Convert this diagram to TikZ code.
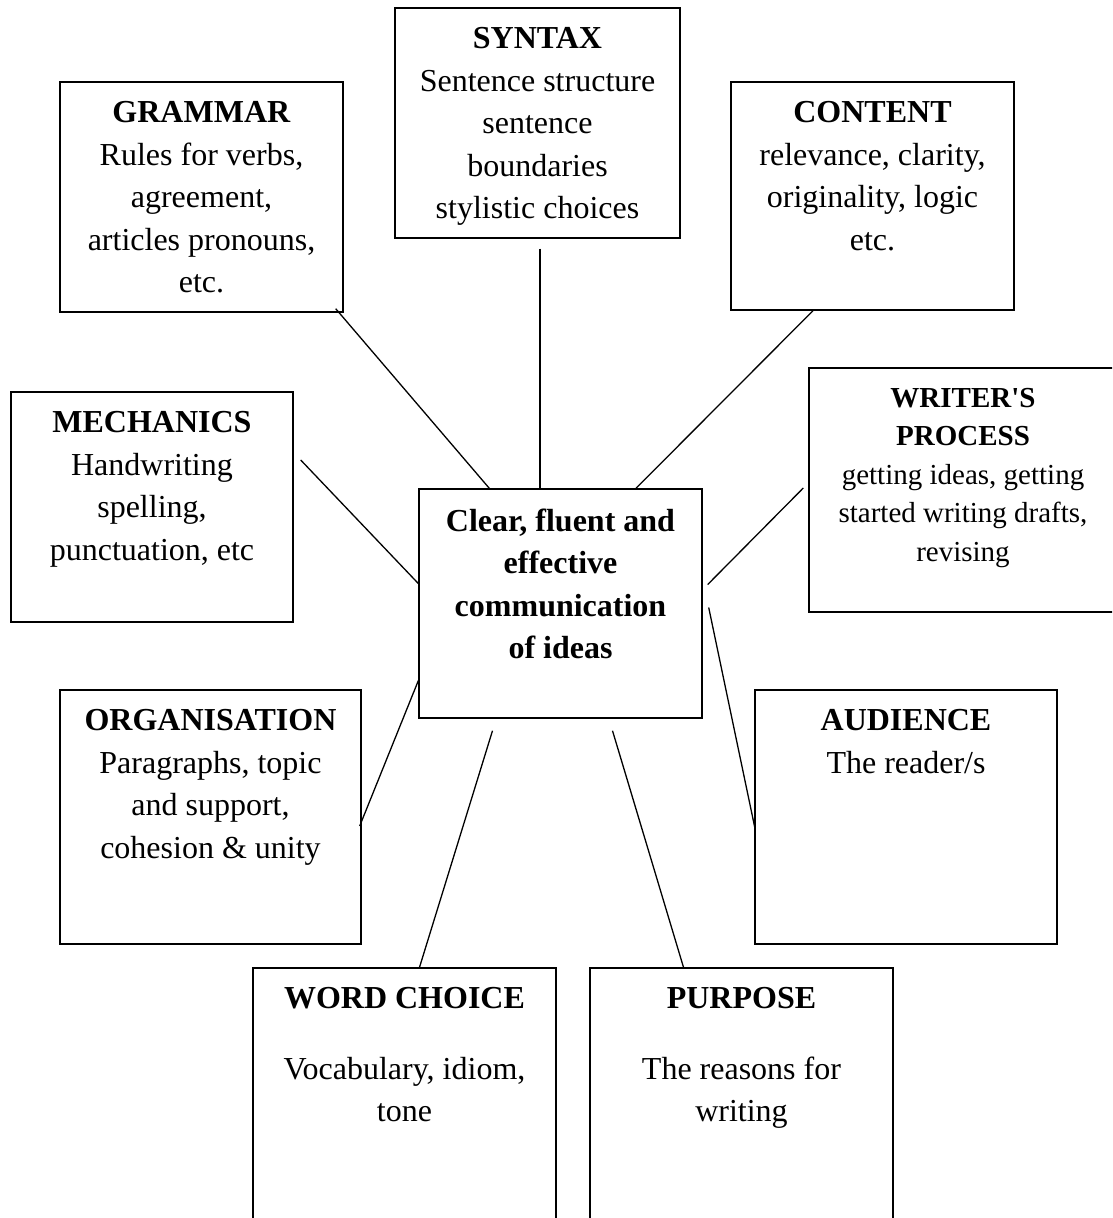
\documentclass[tikz,border=0pt]{standalone}
\usepackage{fontspec}
\setmainfont{Liberation Serif}
\usetikzlibrary{positioning,calc}

\begin{document}
\begin{tikzpicture}[x=1pt,y=-1pt,
    box/.style={draw,line width=1.4pt,inner sep=0pt},
    txt/.style={align=center,inner sep=0pt,font=\fontsize{32}{42.5}\selectfont},
    lnk/.style={line width=1.3pt}]
  \useasboundingbox (0,0) rectangle (1112,1218);
  \clip (0,0) rectangle (1112,1218);
  % outer boxes
  \node[box,minimum width=283,minimum height=230] (gram) at (201.5,197) {};
  \node[box,minimum width=285,minimum height=230] (syn) at (537.5,123) {};
  \node[box,minimum width=283,minimum height=228] (cont) at (872.5,196) {};
  \node[box,minimum width=282,minimum height=230] (mech) at (152,507) {};
  \node[box,minimum width=308,minimum height=244] (wp) at (963,490) {};
  \node[box,minimum width=283,minimum height=229] (ctr) at (560.5,603.5) {};
  \node[box,minimum width=301,minimum height=254] (org) at (210.5,817) {};
  \node[box,minimum width=302,minimum height=254] (aud) at (906,817) {};
  \node[box,minimum width=303,minimum height=272] (wc) at (404.5,1104) {};
  \node[box,minimum width=303,minimum height=272] (pur) at (741.5,1104) {};
  % texts
  \node[txt,below=20pt of gram.north] (gramT)
    {\textbf{GRAMMAR}\\Rules for verbs,\\agreement,\\articles pronouns,\\etc.};
  \node[txt,below=20pt of syn.north] (synT)
    {\textbf{SYNTAX}\\Sentence structure\\sentence\\boundaries\\stylistic choices};
  \node[txt,below=20pt of cont.north] (contT)
    {\textbf{CONTENT}\\relevance, clarity,\\originality, logic\\etc.};
  \node[txt,below=20pt of mech.north] (mechT)
    {\textbf{MECHANICS}\\Handwriting\\spelling,\\punctuation, etc};
  \node[txt,font=\fontsize{29}{38.5}\selectfont,below=20.5pt of wp.north] (wpT)
    {\textbf{WRITER\textquotesingle S}\\\textbf{PROCESS}\\getting ideas, getting\\started writing drafts,\\revising};
  \node[txt,below=20pt of ctr.north] (ctrT)
    {\textbf{Clear, fluent and}\\\textbf{effective}\\\textbf{communication}\\\textbf{of ideas}};
  \node[txt,below=20pt of org.north] (orgT)
    {\textbf{ORGANISATION}\\Paragraphs, topic\\and support,\\cohesion \& unity};
  \node[txt,below=20pt of aud.north] (audT)
    {\textbf{AUDIENCE}\\The reader/s};
  \node[txt,below=20pt of wc.north] (wcT)
    {\textbf{WORD CHOICE}\\[28pt]Vocabulary, idiom,\\tone};
  \node[txt,below=20pt of pur.north] (purT)
    {\textbf{PURPOSE}\\[28pt]The reasons for\\writing};
  % spokes
  \draw[lnk] ($(gram.south east)+(-8,-4)$) -- ($(ctr.north west)+(71,0)$);
  \draw[lnk] ($(syn.south)+(2.5,10)$) -- ($(ctr.north)+(-20.5,0)$);
  \draw[lnk] ($(cont.south)+(-59.5,0)$) -- ($(ctr.north)+(75.5,0)$);
  \draw[lnk] ($(mech.east)+(7,-47)$) -- ($(ctr.west)+(0,-20)$);
  \draw[lnk] ($(wp.west)+(-5,-2)$) -- ($(ctr.east)+(5,-19)$);
  \draw[lnk] ($(ctr.east)+(6,4)$) -- ($(aud.west)+(1,13)$);
  \draw[lnk] ($(ctr.south west)+(0,-38)$) -- ($(org.east)+(-2,9)$);
  \draw[lnk] ($(ctr.south)+(-68,12)$) -- ($(wc.north)+(15,0)$);
  \draw[lnk] ($(ctr.south)+(52,12)$) -- ($(pur.north)+(-58,0)$);
\end{tikzpicture}
\end{document}
